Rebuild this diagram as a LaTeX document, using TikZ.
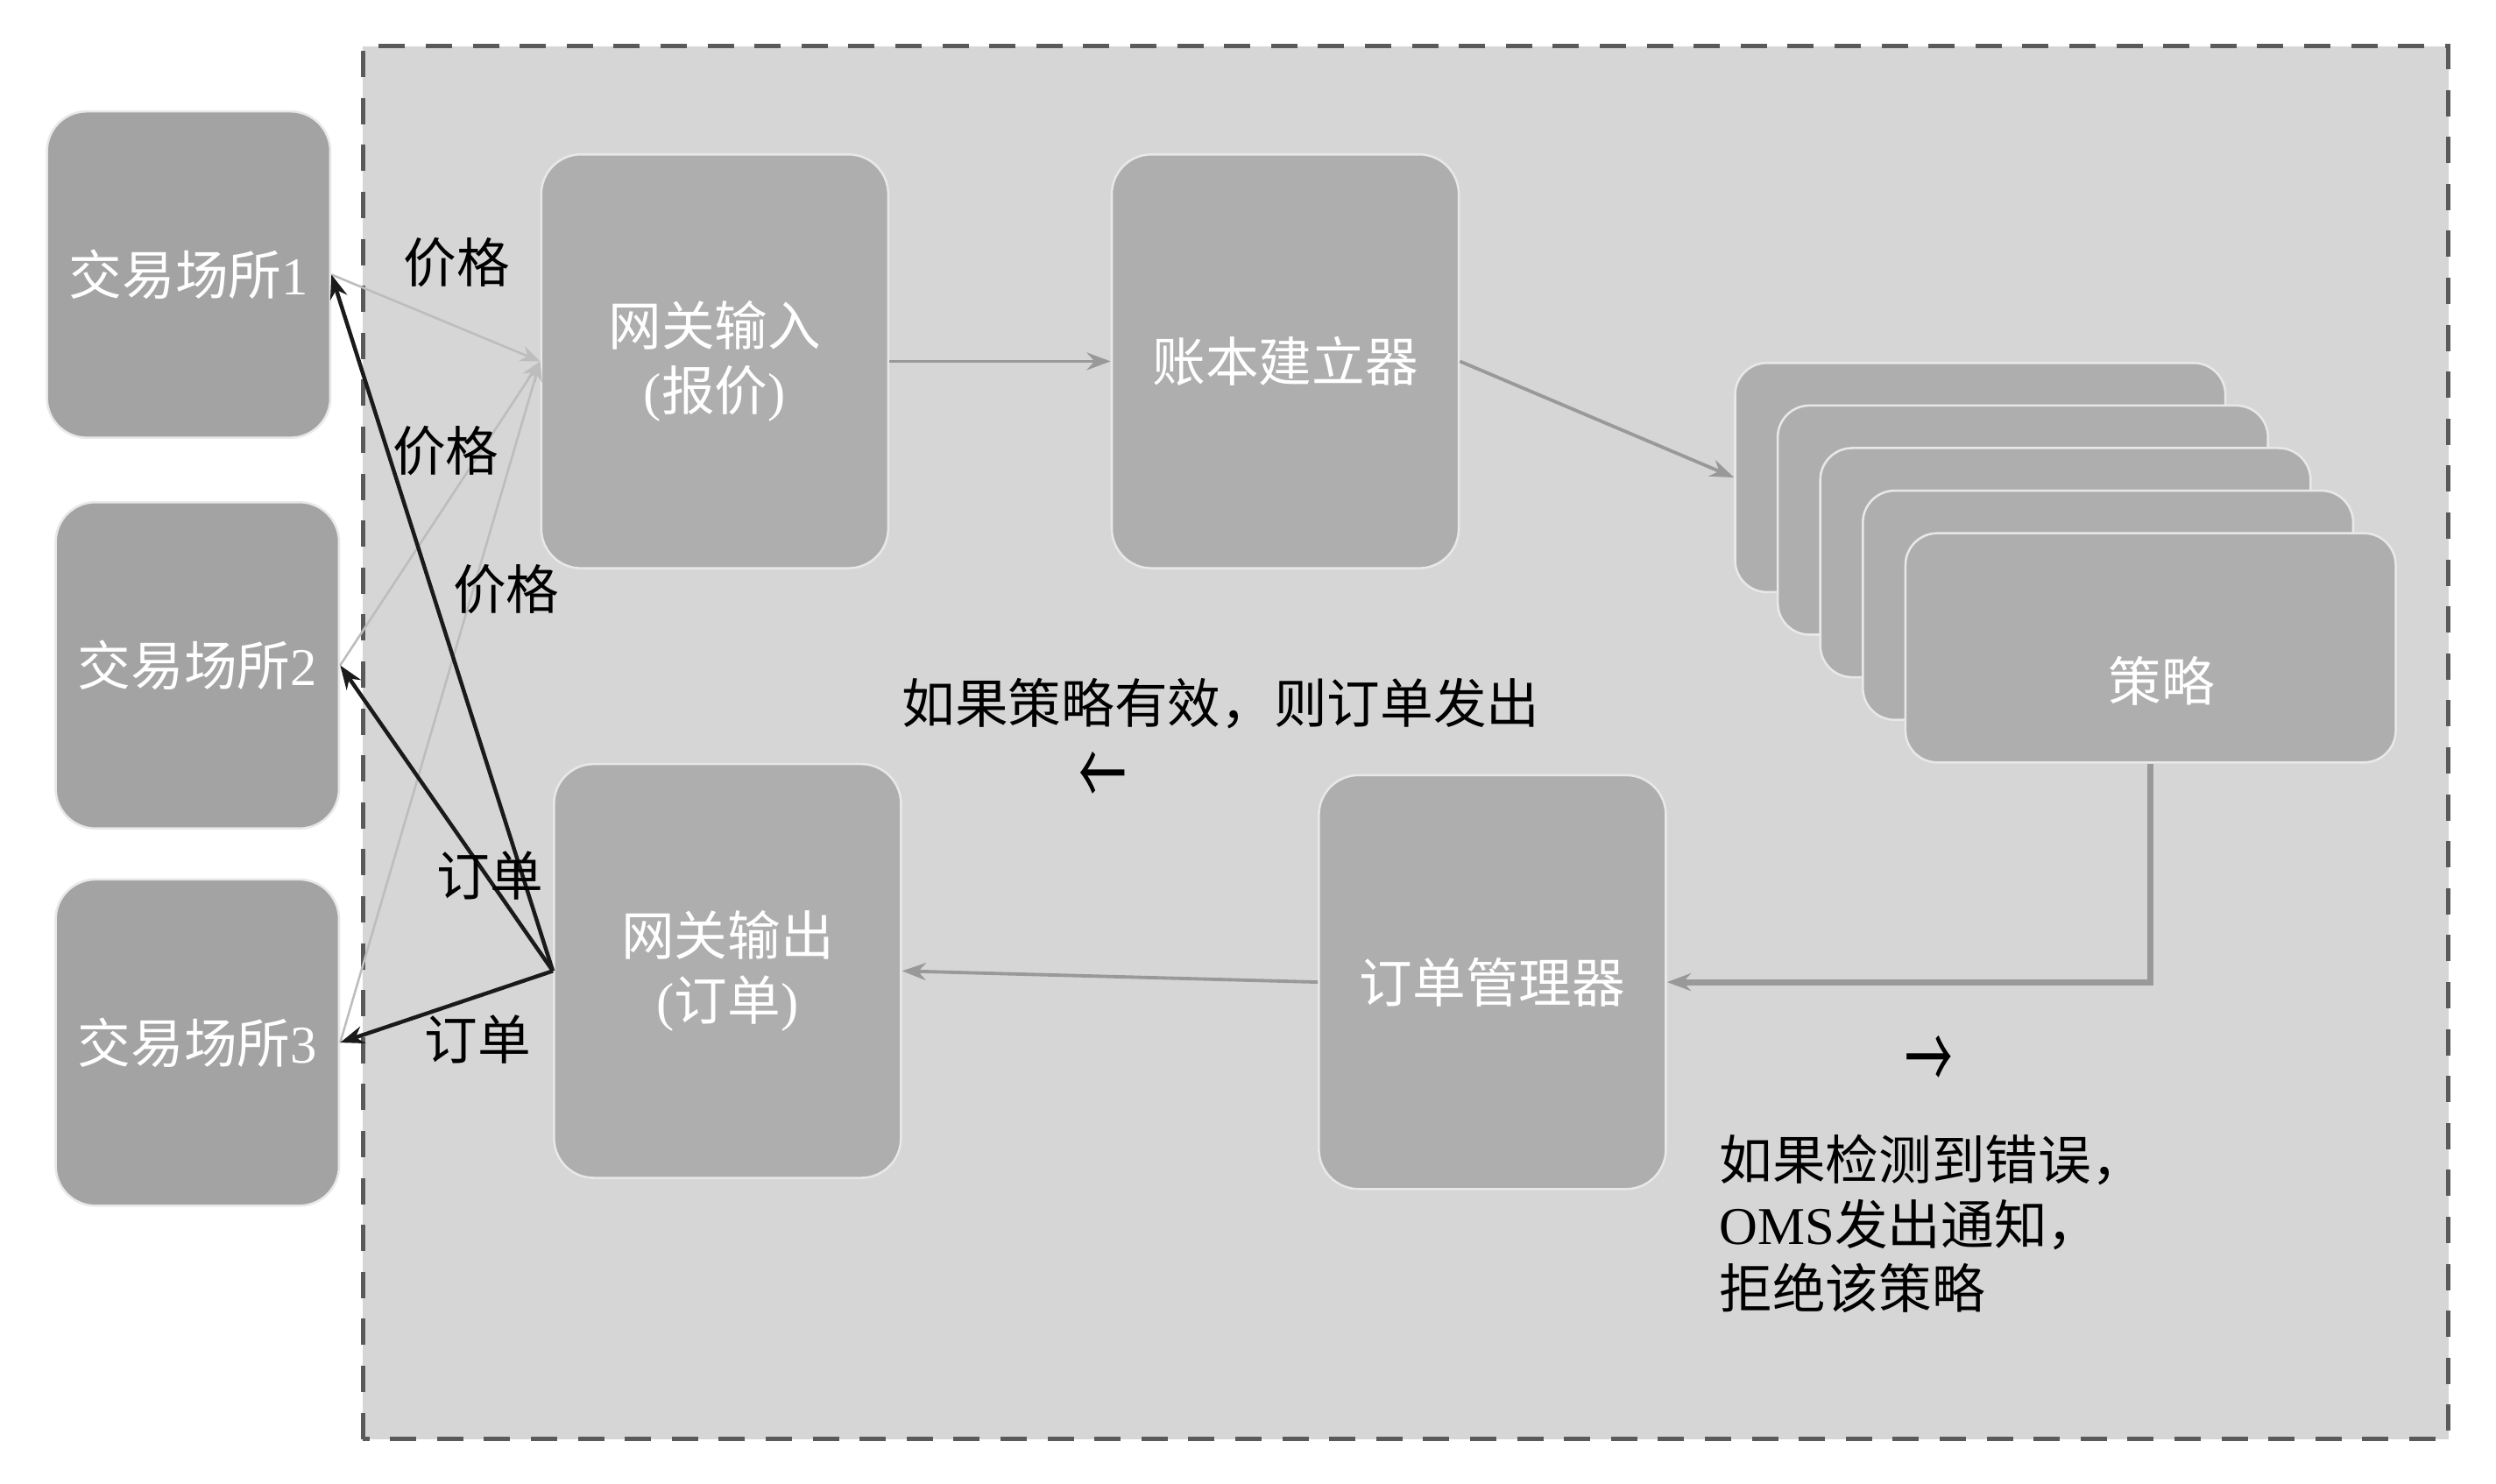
\documentclass[tikz,border=0pt]{standalone}
\usepackage{fontspec}
\setmainfont{Liberation Serif}
\newfontfamily\cjk{Noto Sans CJK SC}
\usepackage{tikz}
\usetikzlibrary{arrows.meta, positioning, calc}
\definecolor{panel}{HTML}{D6D6D6}
\definecolor{dashgray}{HTML}{5A5A5A}
\definecolor{venuegray}{HTML}{A3A3A3}
\definecolor{boxgray}{HTML}{AEAEAE}
\definecolor{rimgray}{HTML}{E8E8E8}
\definecolor{flowgray}{HTML}{999999}
\definecolor{pricegray}{HTML}{BDBDBD}
\definecolor{ordblack}{HTML}{1A1A1A}
\newcommand{\zh}[1]{{\cjk #1}}

\begin{document}
\begin{tikzpicture}[
    venue/.style={rectangle, draw=rimgray, fill=venuegray, line width=0.8pt,
        minimum width=3.56cm, minimum height=4.1cm, rounded corners=0.5cm,
        text=white, font=\fontsize{19}{23}\selectfont},
    proc/.style={rectangle, draw=rimgray, fill=boxgray, line width=0.8pt,
        minimum width=4.36cm, minimum height=5.2cm, rounded corners=0.5cm,
        text=white, align=center, font=\fontsize{19}{23}\selectfont},
    card/.style={rectangle, draw=rimgray, fill=boxgray, line width=0.8pt,
        minimum width=6.16cm, minimum height=2.88cm, rounded corners=0.4cm},
    lbl/.style={font=\fontsize{19}{23}\selectfont, text=black, inner sep=1pt},
    flow/.style={-{Stealth[length=3mm, width=2.2mm]}, line width=1.2pt, flowgray},
    price/.style={-{Stealth[length=2.5mm, width=2mm]}, line width=0.8pt, pricegray},
    order/.style={-{Stealth[length=3mm, width=2.2mm]}, line width=1.4pt, ordblack}
]
\useasboundingbox (0,0) rectangle (31.36,18.64);

% system boundary
\draw[dashgray, fill=panel, line width=1.5pt, dash pattern=on 0.33cm off 0.26cm]
    (4.56,0.56) rectangle (30.76,18.06);

% venues
\node[venue] (venue1) at (2.37,15.19) {\zh{交易场所}1};
\node[venue] (venue2) at (2.48,10.28) {\zh{交易场所}2};
\node[venue] (venue3) at (2.48,5.54) {\zh{交易场所}3};

% processing boxes
\node[proc] (gwin) at (8.98,14.10) {\zh{网关输入}\\(\zh{报价})};
\node[proc, right=2.78cm of gwin] (book) {\zh{账本建立器}};
\node[proc] (gwout) at (9.14,6.44) {\zh{网关输出}\\(\zh{订单})};
\node[proc] (ordmgr) at (18.75,6.30) {\zh{订单管理器}};

% strategy stack
\node[card] (card1) at (24.88,12.64) {};
\node[card] (card2) at (25.415,12.105) {};
\node[card] (card3) at (25.95,11.57) {};
\node[card] (card4) at (26.485,11.035) {};
\node[card, label={[lbl, text=white, xshift=0.14cm, yshift=-0.42cm]center:\zh{策略}}]
    (strat) at (27.02,10.50) {};

% prices in
\draw[price] (venue1.east) -- (gwin.west);
\draw[price] (venue2.east) -- (gwin.west);
\draw[price] (venue3.east) -- (gwin.west);

% orders out
\draw[order] (gwout.west) -- (venue1.east);
\draw[order] (gwout.west) -- (venue2.east);
\draw[order] (gwout.west) -- (venue3.east);

% internal flow
\draw[flow] (gwin.east) -- (book.west);
\draw[flow] (book.east) -- (card1.west);
\draw[flow, line width=2.2pt] (strat.south) |- (ordmgr.east);
\draw[flow] (ordmgr.west) -- (gwout.east);

% labels
\node[lbl] (p1) at (5.74,15.34) {\zh{价格}};
\node[lbl] (p2) at (5.60,12.98) {\zh{价格}};
\node[lbl] (p3) at (6.36,11.24) {\zh{价格}};
\node[lbl] (o1) at (6.16,7.64) {\zh{订单}};
\node[lbl] (o2) at (6.00,5.58) {\zh{订单}};
\node[lbl] (valid) at (15.34,9.80) {\zh{如果策略有效，则订单发出}};
\node[lbl] (leftarr) at (13.86,8.84) {\scalebox{0.9}[1.7]{\zh{←}}};
\node[lbl] (rightarr) at (24.24,5.28) {\scalebox{0.9}[1.7]{\zh{→}}};
\node[lbl, anchor=west, align=left] (reject) at (21.56,3.26)
    {\zh{如果检测到错误，}\\OMS\zh{发出通知，}\\\zh{拒绝该策略}};
\end{tikzpicture}
\end{document}
